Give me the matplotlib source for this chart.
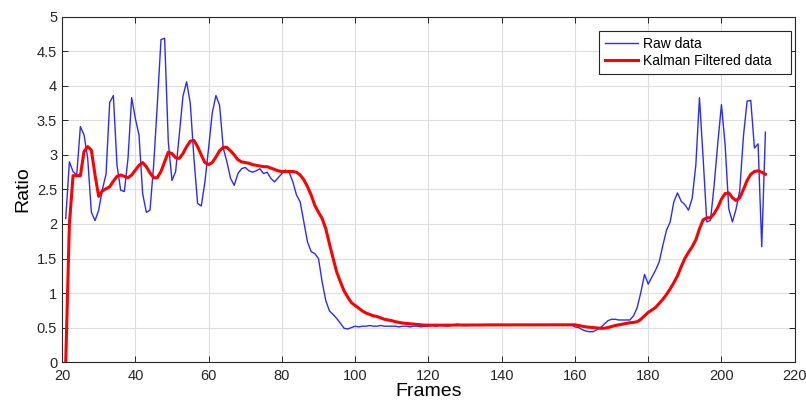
import numpy as np
import matplotlib.pyplot as plt

plt.rcParams['font.family'] = ['Liberation Sans', 'DejaVu Sans']

frames = np.arange(21, 213)

raw_data = [
    2.08, 2.90, 2.76, 2.71, 3.41, 3.29, 2.95, 2.17, 2.05, 2.20,   # 21-30
    2.50, 2.72, 3.76, 3.86, 2.85, 2.49, 2.47, 2.95, 3.83, 3.53,   # 31-40
    3.29, 2.44, 2.17, 2.20, 2.85, 3.73, 4.67, 4.69, 3.19, 2.63,   # 41-50
    2.76, 3.29, 3.85, 4.06, 3.75, 2.95, 2.30, 2.26, 2.61, 3.10,   # 51-60
    3.61, 3.86, 3.72, 3.10, 2.90, 2.66, 2.56, 2.73, 2.80, 2.82,   # 61-70
    2.77, 2.75, 2.77, 2.80, 2.73, 2.75, 2.66, 2.61, 2.67, 2.73,   # 71-80
    2.78, 2.75, 2.61, 2.42, 2.32, 2.03, 1.74, 1.60, 1.57, 1.50,   # 81-90
    1.16, 0.89, 0.74, 0.69, 0.63, 0.56, 0.49, 0.48, 0.50, 0.52,   # 91-100
    0.51, 0.52, 0.52, 0.53, 0.52, 0.52, 0.53, 0.52, 0.52, 0.52,   # 101-110
    0.52, 0.51, 0.52, 0.52, 0.51, 0.52, 0.52, 0.51, 0.52, 0.52,   # 111-120
    0.53, 0.52, 0.53, 0.53, 0.52, 0.53, 0.54, 0.55, 0.53, 0.53,   # 121-130
    0.53, 0.54, 0.54, 0.53, 0.54, 0.54, 0.54, 0.53, 0.54, 0.54,   # 131-140
    0.54, 0.54, 0.54, 0.54, 0.54, 0.54, 0.54, 0.54, 0.54, 0.54,   # 141-150
    0.54, 0.53, 0.54, 0.54, 0.54, 0.54, 0.54, 0.53, 0.54, 0.51,   # 151-160
    0.50, 0.47, 0.45, 0.44, 0.44, 0.47, 0.50, 0.55, 0.60, 0.62,   # 161-170
    0.62, 0.61, 0.61, 0.61, 0.61, 0.67, 0.79, 1.01, 1.27, 1.13,   # 171-180
    1.23, 1.33, 1.45, 1.69, 1.91, 2.03, 2.32, 2.45, 2.33, 2.28,   # 181-190
    2.20, 2.37, 2.85, 3.83, 2.95, 2.03, 2.05, 2.56, 3.17, 3.73,   # 191-200
    3.15, 2.22, 2.03, 2.22, 2.49, 3.27, 3.78, 3.79, 3.10, 3.16,   # 201-210
    1.67, 3.33,                                                   # 211-212
]

kalman_data = [
    0.00, 2.00, 2.70, 2.70, 2.70, 3.05, 3.12, 3.07, 2.71, 2.40,   # 21-30
    2.48, 2.51, 2.54, 2.62, 2.69, 2.71, 2.69, 2.67, 2.71, 2.78,   # 31-40
    2.85, 2.89, 2.83, 2.74, 2.67, 2.67, 2.76, 2.90, 3.04, 3.02,   # 41-50
    2.96, 2.95, 3.02, 3.12, 3.20, 3.21, 3.12, 3.00, 2.89, 2.86,   # 51-60
    2.89, 2.97, 3.06, 3.11, 3.11, 3.06, 3.00, 2.93, 2.90, 2.89,   # 61-70
    2.88, 2.86, 2.85, 2.84, 2.83, 2.83, 2.81, 2.79, 2.77, 2.76,   # 71-80
    2.76, 2.76, 2.76, 2.75, 2.71, 2.64, 2.54, 2.42, 2.27, 2.17,   # 81-90
    2.08, 1.93, 1.71, 1.50, 1.30, 1.16, 1.03, 0.94, 0.86, 0.82,   # 91-100
    0.78, 0.74, 0.71, 0.69, 0.67, 0.66, 0.64, 0.62, 0.61, 0.60,   # 101-110
    0.585, 0.575, 0.565, 0.56, 0.555, 0.55, 0.545, 0.54, 0.535, 0.535,  # 111-120
    0.535, 0.535, 0.535, 0.535, 0.535, 0.535, 0.537, 0.538, 0.537, 0.537,  # 121-130
    0.537, 0.538, 0.538, 0.538, 0.538, 0.539, 0.539, 0.539, 0.539, 0.539,  # 131-140
    0.539, 0.539, 0.539, 0.539, 0.539, 0.539, 0.539, 0.539, 0.539, 0.539,  # 141-150
    0.539, 0.538, 0.538, 0.538, 0.538, 0.538, 0.538, 0.538, 0.538, 0.54,   # 151-160
    0.53, 0.52, 0.51, 0.505, 0.50, 0.495, 0.49, 0.49, 0.50, 0.515,  # 161-170
    0.53, 0.54, 0.55, 0.56, 0.57, 0.575, 0.585, 0.62, 0.67, 0.72,   # 171-180
    0.755, 0.79, 0.85, 0.91, 0.98, 1.06, 1.15, 1.25, 1.38, 1.50,   # 181-190
    1.59, 1.67, 1.77, 1.93, 2.06, 2.09, 2.09, 2.15, 2.24, 2.36,   # 191-200
    2.44, 2.45, 2.38, 2.34, 2.38, 2.50, 2.63, 2.72, 2.76, 2.77,   # 201-210
    2.75, 2.72,                                                   # 211-212
]

x_ticks = [20, 40, 60, 80, 100, 120, 140, 160, 180, 200, 220]
y_ticks = [0, 0.5, 1, 1.5, 2, 2.5, 3, 3.5, 4, 4.5, 5]
y_labels = ['0', '0.5', '1', '1.5', '2', '2.5', '3', '3.5', '4', '4.5', '5']

fig = plt.figure(figsize=(8.06, 4.01), dpi=100)
ax = fig.add_axes([0.077, 0.097, 0.909, 0.861])

ax.plot(frames, raw_data, color='#2b2bff', linewidth=1.0, label='Raw data')
ax.plot(frames, kalman_data, color='#ff0000', linewidth=2.2, label='Kalman Filtered data')

ax.set_xlim(20, 220)
ax.set_ylim(0, 5)
ax.set_xticks(x_ticks)
ax.set_yticks(y_ticks)
ax.set_yticklabels(y_labels)
ax.grid(True, color='#dedede', linewidth=0.8)
ax.set_axisbelow(True)
ax.tick_params(direction='in', top=True, right=True, length=4, width=0.7,
               labelsize=10.5, colors='#262626')
ax.tick_params(axis='x', pad=5)
for s in ax.spines.values():
    s.set_color('#262626')
    s.set_linewidth(0.8)

ax.set_xlabel('Frames', fontsize=14, labelpad=0)
ax.set_ylabel('Ratio', fontsize=14, labelpad=4)

# legend box stretched to the width matlab gives it
leg = ax.legend(loc='upper right', bbox_to_anchor=(0.7326, 0.859, 0.2619, 0.1),
                mode='expand', borderaxespad=0,
                fontsize=10, fancybox=False, framealpha=1, edgecolor='#262626',
                handlelength=2.4, handletextpad=0.3, borderpad=0.45,
                labelspacing=0.2)
leg.get_frame().set_linewidth(0.8)

fig.savefig('out.png', dpi=100)
